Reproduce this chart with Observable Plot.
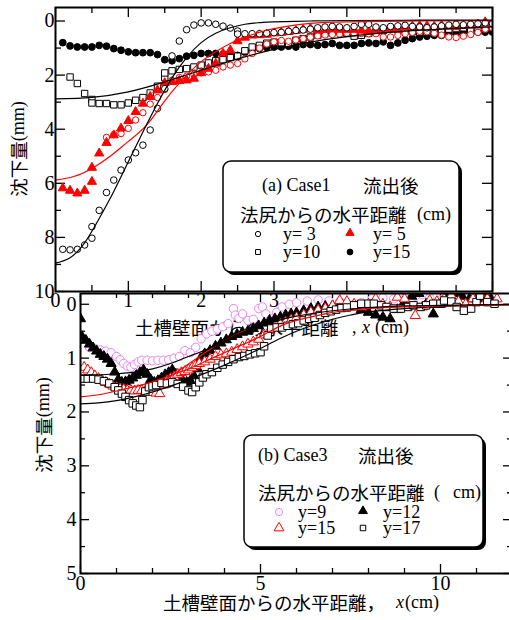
<!DOCTYPE html>
<html><head><meta charset="utf-8">
<script src="https://cdn.jsdelivr.net/npm/d3@7"></script>
<script src="https://cdn.jsdelivr.net/npm/@observablehq/plot@0.6"></script>
<style>
body{margin:0;background:#fff}
#wrap{position:relative;width:509px;height:620px;overflow:hidden;background:#fff}
#wrap svg{position:absolute;left:0}
</style></head><body><div id="wrap"></div>
<script>
// ---------- (a) Case1 data : [x (cm), settlement (mm)] ----------
const a_y3 = [[0.1,8.44],[0.2,8.46],[0.3,8.44],[0.4,8.28],[0.5,8.03],[0.5,7.6],[0.6,7.0],[0.7,6.34],[0.8,5.88],[0.9,5.51],[1.0,5.14],[1.1,4.87],[1.2,4.59],[1.3,4.03],[1.4,3.23],[1.5,2.5],[1.6,1.29],[1.7,0.74],[1.8,0.32],[1.9,0.15],[2.0,0.07],[2.1,0.07],[2.2,0.12],[2.3,0.19],[2.4,0.26],[2.5,0.37],[2.5,0.48],[2.6,0.47],[2.7,0.47],[2.8,0.47],[2.9,0.45],[3.0,0.43],[3.1,0.42],[3.2,0.38],[3.3,0.35],[3.4,0.33],[3.5,0.3],[3.6,0.25],[3.7,0.22],[3.8,0.2],[3.9,0.22],[4.0,0.25],[4.1,0.2],[4.2,0.12],[4.3,0.12],[4.4,0.22],[4.5,0.25],[4.6,0.2],[4.7,0.18],[4.8,0.16],[4.9,0.2],[5.0,0.22],[5.1,0.25],[5.2,0.22],[5.3,0.18],[5.4,0.15],[5.5,0.12],[5.6,0.14],[5.7,0.12],[5.8,0.1],[5.9,0.07],[6.0,0.1]];
const a_y5 = [[0.1,6.18],[0.2,6.27],[0.3,6.37],[0.4,6.27],[0.5,5.94],[0.5,5.42],[0.6,4.89],[0.7,4.5],[0.8,4.22],[0.9,3.97],[1.0,3.69],[1.1,3.36],[1.2,3.05],[1.3,2.8],[1.4,2.56],[1.5,2.29],[1.6,2.25],[1.7,2.21],[1.8,2.19],[1.9,2.13],[2.0,1.92],[2.1,1.76],[2.2,1.57],[2.3,1.2],[2.4,1.08],[2.5,0.74],[2.6,0.61],[2.7,0.53],[2.8,0.52],[2.9,0.5],[3.0,0.45],[3.1,0.43],[3.2,0.4],[3.3,0.36],[3.4,0.32],[3.5,0.28],[3.6,0.34],[3.7,0.32],[3.8,0.3],[3.9,0.32],[4.0,0.32],[4.1,0.32],[4.2,0.35],[4.3,0.38],[4.4,0.36],[4.5,0.33],[4.6,0.3],[4.7,0.25],[4.8,0.22],[4.9,0.2],[5.0,0.17],[5.1,0.18],[5.2,0.2],[5.3,0.16],[5.4,0.2],[5.5,0.22],[5.6,0.18],[5.7,0.16],[5.8,0.12],[5.9,0.04],[6.0,0.1]];
const a_red = [[0.7,4.3],[0.8,4.2],[0.9,4.16],[1.0,3.97],[1.1,3.66],[1.2,3.39],[1.3,3.07],[1.4,2.83],[1.5,2.53],[1.6,2.19],[1.7,2.09],[1.8,2.04],[1.9,1.97],[2.0,1.92],[2.1,1.88],[2.2,1.82],[2.3,1.7],[2.4,1.63],[2.5,1.57],[2.6,1.4],[2.7,1.2],[2.8,1.0],[2.9,0.85],[3.0,0.77],[3.1,0.72],[3.2,0.75],[3.3,0.7],[3.4,0.65],[3.5,0.6],[3.6,0.55],[3.7,0.52],[3.8,0.5],[3.9,0.48],[4.0,0.45],[4.1,0.45],[4.2,0.46],[4.3,0.47],[4.4,0.47],[4.5,0.59],[4.6,0.59],[4.7,0.53],[4.8,0.47],[4.9,0.42],[5.0,0.38],[5.1,0.4],[5.2,0.45],[5.3,0.52],[5.4,0.59],[5.5,0.61],[5.6,0.56],[5.7,0.5],[5.8,0.42],[5.9,0.3],[6.0,0.25]];
const a_y10 = [[0.2,2.07],[0.3,2.31],[0.4,2.68],[0.5,2.9],[0.5,3.03],[0.6,3.05],[0.7,3.05],[0.8,3.1],[0.9,3.1],[1.0,3.03],[1.1,2.93],[1.2,2.83],[1.3,2.66],[1.4,2.41],[1.5,2.09],[1.5,1.92],[1.6,1.84],[1.7,1.79],[1.8,1.76],[1.9,1.7],[2.0,1.63],[2.1,1.55],[2.2,1.47],[2.3,1.43],[2.4,1.35],[2.5,1.3],[2.6,1.1],[2.7,0.96],[2.8,0.9],[2.9,0.82],[3.0,0.78],[3.1,0.8],[3.2,0.83],[3.3,0.71],[3.4,0.65],[3.5,0.59],[3.6,0.53],[3.7,0.46],[3.8,0.41],[3.9,0.38],[4.0,0.46],[4.1,0.56],[4.2,0.53],[4.3,0.46],[4.4,0.4],[4.5,0.35],[4.6,0.28],[4.7,0.32],[4.8,0.37],[4.9,0.4],[5.0,0.41],[5.1,0.41],[5.2,0.37],[5.3,0.35],[5.4,0.3],[5.5,0.28],[5.6,0.25],[5.7,0.32],[5.8,0.37],[5.9,0.28],[6.0,0.25]];
const a_y15 = [[0.1,0.8],[0.2,0.92],[0.3,0.96],[0.4,0.96],[0.5,0.96],[0.6,0.9],[0.7,0.93],[0.8,1.02],[0.9,1.08],[1.0,1.14],[1.1,1.17],[1.2,1.17],[1.3,1.17],[1.4,1.24],[1.5,1.43],[1.6,1.47],[1.7,1.39],[1.8,1.3],[1.9,1.27],[2.0,1.2],[2.1,1.2],[2.2,1.2],[2.3,1.23],[2.4,1.27],[2.5,1.27],[2.6,1.15],[2.7,1.08],[2.8,1.02],[2.9,0.98],[3.0,0.96],[3.1,0.96],[3.2,0.93],[3.3,0.96],[3.4,0.87],[3.5,0.87],[3.6,0.9],[3.7,0.87],[3.8,0.83],[3.9,0.9],[4.0,0.9],[4.1,0.9],[4.2,0.83],[4.3,0.81],[4.4,0.83],[4.5,0.77],[4.6,0.9],[4.7,0.81],[4.8,0.71],[4.9,0.65],[5.0,0.59],[5.1,0.56],[5.2,0.53],[5.3,0.53],[5.4,0.47],[5.5,0.47],[5.6,0.41],[5.7,0.41],[5.8,0.41],[5.9,0.41],[6.0,0.41]];
// fitted curves (a)
const a_fit3 = [[0,8.95],[0.2,8.75],[0.4,8.2],[0.6,7.3],[0.8,6.3],[1.0,5.2],[1.2,4.1],[1.4,3.05],[1.6,2.1],[1.8,1.35],[2.0,0.8],[2.2,0.45],[2.4,0.25],[2.6,0.12],[2.8,0.06],[3.0,0.03],[3.5,0.0],[4.0,-0.02],[5.0,-0.03],[6.0,-0.03]];
const a_fit5 = [[0,5.88],[0.25,5.75],[0.5,5.45],[0.75,5.0],[1.0,4.45],[1.25,3.85],[1.5,2.95],[1.75,2.15],[2.0,1.5],[2.25,1.05],[2.5,0.7],[2.75,0.46],[3.0,0.28],[3.5,0.09],[4.0,0.03],[5.0,0.0],[6.0,-0.01]];
const a_fit10 = [[0,2.88],[0.5,2.82],[1.0,2.62],[1.5,2.25],[2.0,1.82],[2.5,1.4],[3.0,1.05],[3.5,0.78],[4.0,0.58],[4.5,0.44],[5.0,0.34],[5.5,0.27],[6.0,0.22]];

// ---------- (b) Case3 data ----------
const b_y9 = [[0.25,0.8],[0.4,0.82],[0.55,0.85],[0.7,0.87],[0.85,0.9],[1.0,0.97],[1.1,1.03],[1.2,1.1],[1.3,1.15],[1.4,1.17],[1.5,1.12],[1.6,1.07],[1.7,1.04],[1.85,1.04],[2.0,1.05],[2.15,1.04],[2.3,1.04],[2.45,1.03],[2.6,1.0],[2.75,0.97],[2.9,0.86],[3.05,0.9],[3.2,0.8],[3.35,0.64],[3.5,0.55],[3.65,0.5],[3.8,0.46],[3.95,0.42],[4.1,0.36],[4.25,0.08],[4.3,0.2],[4.4,0.26],[4.5,0.18],[4.65,0.3],[4.8,0.28],[4.95,0.08],[5.05,0.05],[5.15,0.18],[5.3,0.27],[5.45,0.15],[5.6,0.05],[5.8,0.0],[6.0,-0.03],[6.3,-0.06],[6.6,-0.08],[6.9,-0.06],[7.2,-0.05],[7.4,-0.02],[7.6,0.0],[7.8,-0.03],[8.1,-0.1],[8.4,-0.12],[8.7,-0.1],[9.0,-0.12],[9.3,-0.15],[9.5,-0.18],[9.7,-0.12],[10.0,-0.08],[10.2,-0.07],[10.5,-0.12],[10.8,-0.15],[11.1,-0.12],[11.4,-0.1]];
const b_y12 = [[0,0.27],[0.05,0.61],[0.15,0.67],[0.25,0.74],[0.35,0.81],[0.45,0.87],[0.55,0.93],[0.65,0.97],[0.75,1.02],[0.85,1.1],[0.95,1.26],[1.05,1.4],[1.15,1.45],[1.25,1.44],[1.35,1.41],[1.45,1.37],[1.55,1.32],[1.65,1.27],[1.75,1.22],[1.85,1.3],[1.95,1.4],[2.05,1.45],[2.15,1.42],[2.25,1.37],[2.35,1.31],[2.45,1.27],[2.55,1.22],[2.65,1.3],[2.75,1.38],[2.85,1.43],[2.95,1.45],[3.05,1.42],[3.15,1.33],[3.25,1.2],[3.33,1.01],[3.45,0.92],[3.6,0.86],[3.75,0.78],[3.9,0.72],[4.05,0.66],[4.2,0.6],[4.35,0.56],[4.5,0.52],[4.65,0.5],[4.8,0.45],[4.95,0.4],[5.1,0.35],[5.25,0.3],[5.4,0.27],[5.55,0.24],[5.7,0.2],[5.85,0.18],[6.0,0.16],[6.2,0.12],[6.4,0.08],[6.6,0.05],[6.8,0.04],[7.0,0.03],[7.2,0.02],[7.4,0.02],[7.6,0.05],[7.8,0.1],[8.0,0.15],[8.2,0.2],[8.4,0.24],[8.6,0.27],[8.8,0.1],[9.0,-0.05],[9.2,-0.15],[9.4,-0.2],[9.6,0.0],[9.8,0.18],[10.0,0.0],[10.2,-0.15],[10.4,-0.2],[10.6,-0.15],[10.8,-0.1],[11.0,-0.1],[11.2,-0.13],[11.4,-0.1]];
const b_y15 = [[0.1,1.17],[0.2,1.22],[0.3,1.27],[0.4,1.33],[0.5,1.38],[0.6,1.41],[0.7,1.45],[0.8,1.48],[0.9,1.52],[1.0,1.55],[1.1,1.57],[1.2,1.58],[1.3,1.6],[1.4,1.6],[1.5,1.61],[1.6,1.6],[1.7,1.6],[1.8,1.62],[1.9,1.63],[2.0,1.64],[2.1,1.65],[2.2,1.66],[2.3,1.5],[2.4,1.42],[2.5,1.38],[2.6,1.35],[2.7,1.3],[2.8,1.27],[2.9,1.25],[3.0,1.22],[3.1,1.18],[3.2,1.14],[3.3,1.1],[3.45,1.07],[3.6,1.02],[3.75,0.97],[3.9,0.94],[4.05,0.92],[4.2,0.89],[4.35,0.84],[4.5,0.79],[4.65,0.74],[4.8,0.7],[4.95,0.65],[5.1,0.57],[5.25,0.49],[5.4,0.42],[5.55,0.37],[5.7,0.33],[5.85,0.29],[6.0,0.25],[6.2,0.2],[6.4,0.15],[6.6,0.11],[6.8,0.08],[7.0,0.03],[7.2,-0.07],[7.4,-0.05],[7.6,0.0],[7.8,0.05],[8.0,0.0],[8.2,-0.1],[8.4,0.0],[8.6,0.05],[8.8,-0.13],[9.0,-0.1],[9.3,0.21],[9.5,0.05],[9.7,-0.07],[9.9,-0.05],[10.1,-0.1],[10.3,-0.16],[10.5,-0.05],[10.7,0.0],[10.9,-0.1],[11.1,-0.2],[11.3,-0.1],[11.57,-0.1]];
const b_y17 = [[0.05,1.38],[0.2,1.38],[0.35,1.38],[0.5,1.4],[0.65,1.43],[0.8,1.47],[0.95,1.54],[1.05,1.6],[1.15,1.66],[1.25,1.72],[1.35,1.78],[1.45,1.84],[1.55,1.88],[1.65,1.91],[1.72,1.78],[1.8,1.62],[1.9,1.54],[2.0,1.52],[2.1,1.5],[2.25,1.46],[2.4,1.47],[2.55,1.45],[2.7,1.48],[2.85,1.53],[3.0,1.6],[3.1,1.63],[3.2,1.54],[3.3,1.45],[3.4,1.36],[3.5,1.3],[3.65,1.26],[3.8,1.18],[3.95,1.12],[4.1,1.07],[4.25,1.02],[4.4,0.98],[4.55,0.96],[4.7,0.93],[4.85,0.91],[5.0,0.89],[5.1,0.78],[5.2,0.58],[5.3,0.45],[5.45,0.43],[5.6,0.43],[5.75,0.4],[5.9,0.37],[6.05,0.35],[6.2,0.3],[6.35,0.27],[6.5,0.25],[6.65,0.2],[6.8,0.16],[6.95,0.13],[7.1,0.1],[7.25,0.07],[7.4,0.06],[7.6,0.02],[7.8,-0.01],[8.0,-0.01],[8.15,-0.01],[8.35,0.02],[8.5,0.05],[8.7,0.08],[8.9,0.08],[9.1,0.05],[9.25,0.02],[9.45,0.05],[9.6,0.02],[9.8,-0.01],[10.0,-0.01],[10.1,-0.07],[10.3,-0.05],[10.45,0.05],[10.65,0.12],[10.85,0.08],[11.0,-0.04],[11.1,-0.16],[11.3,-0.04],[11.5,-0.01]];
// fitted curves (b)
const b_fitA = [[0,1.32],[0.5,1.31],[1.0,1.29],[1.5,1.26],[2.0,1.2],[2.5,1.1],[3.0,0.97],[3.5,0.84],[4.0,0.68],[4.5,0.52],[5.0,0.4],[5.5,0.3],[6.0,0.22],[7.0,0.12],[8.0,0.06],[9.0,0.03],[10.0,0.02],[12.0,0.0]];
const b_fitB = [[0,1.85],[0.5,1.83],[1.0,1.79],[1.5,1.72],[2.0,1.63],[2.5,1.52],[3.0,1.4],[3.5,1.27],[4.0,1.13],[4.5,0.98],[5.0,0.82],[5.5,0.65],[6.0,0.5],[6.5,0.38],[7.0,0.28],[7.5,0.2],[8.0,0.14],[9.0,0.08],[10.0,0.04],[11.0,0.02],[12.0,0.01]];
const b_fitR = [[0,1.72],[0.5,1.68],[1.0,1.61],[1.5,1.53],[2.0,1.44],[2.5,1.32],[3.0,1.2],[3.5,1.05],[4.0,0.9],[4.5,0.75],[5.0,0.6],[5.5,0.42],[6.0,0.3],[6.5,0.22],[7.0,0.15],[7.5,0.11],[8.0,0.08],[9.0,0.05],[10.0,0.03],[11.0,0.02],[12.0,0.01]];
const b_fitR2 = [[2.3,1.42],[2.8,1.2],[3.3,0.97],[3.8,0.75],[4.3,0.57],[4.6,0.48]];

// ---------- ticks & labels ----------
const aYMajor = [0,2,4,6,8,10], aYMinor = [1,3,5,7,9];
const aXMajor = [0,1,2,3,4,5,6], aXMinor = [0.5,1.5,2.5,3.5,4.5,5.5], aXLabels = [0,1,2,3];
const bYMajor = [0,1,2,3,4,5], bYMinor = [0.5,1.5,2.5,3.5,4.5];
const bXMajor = [0,5,10], bXMinor = [1,2,3,4,6,7,8,9,11];

const SERIF = "'Liberation Serif','Times New Roman',serif";
const JP = "'Noto Sans CJK JP','Noto Sans CJK SC',sans-serif";
const X = d => d[0], Y = d => d[1];
const intFmt = d => String(d);

function tickMarks(fw, fh, xMaj, xMin, yMaj, yMin, maj, min) {
  const o = {stroke: "black", strokeWidth: 1.3};
  return [
    Plot.tickX(xMaj, {x: d => d, insetTop: fh - maj, ...o}),
    Plot.tickX(xMaj, {x: d => d, insetBottom: fh - maj, ...o}),
    Plot.tickX(xMin, {x: d => d, insetTop: fh - min, ...o}),
    Plot.tickX(xMin, {x: d => d, insetBottom: fh - min, ...o}),
    Plot.tickY(yMaj, {y: d => d, insetRight: fw - maj, ...o}),
    Plot.tickY(yMaj, {y: d => d, insetLeft: fw - maj, ...o}),
    Plot.tickY(yMin, {y: d => d, insetRight: fw - min, ...o}),
    Plot.tickY(yMin, {y: d => d, insetLeft: fw - min, ...o})
  ];
}
const dot = (data, symbol, r, fill, stroke, sw = 1) =>
  Plot.dot(data, {x: X, y: Y, symbol, r, fill, stroke, strokeWidth: sw, clip: true});
const line = (data, stroke) =>
  Plot.line(data, {x: X, y: Y, stroke, strokeWidth: 1.2, curve: "natural", clip: true});

const wrap = document.getElementById("wrap");

// ---------- panel (a) ----------
const A = {w: 509, h: 340, ml: 55, mr: 17, mt: 7, mb: 49};
const aFW = A.w - A.ml - A.mr, aFH = A.h - A.mt - A.mb;
const plotA = Plot.plot({
  width: A.w, height: A.h, marginLeft: A.ml, marginRight: A.mr, marginTop: A.mt, marginBottom: A.mb,
  style: {background: "transparent", fontFamily: SERIF, fontSize: "20px", color: "black", maxWidth: "none", overflow: "visible"},
  x: {domain: [0, 6], ticks: aXLabels, tickFormat: intFmt, tickSize: 0, tickPadding: 1, label: null},
  y: {domain: [-0.5, 10], reverse: true, ticks: aYMajor, tickFormat: intFmt, tickSize: 0, tickPadding: 1, label: null},
  marks: [
    ...tickMarks(aFW, aFH, aXMajor, aXMinor, aYMajor, aYMinor, 10, 6),
    dot(a_y15, "circle", 3.4, "black", "black"),
    dot(a_y10, "square", 3.6, "white", "black"),
    dot(a_red, "circle", 3.2, "white", "red"),
    dot(a_y5, "triangle", 3.4, "red", "red"),
    dot(a_y3, "circle", 3.3, "white", "black"),
    line(a_fit10, "black"),
    line(a_fit5, "red"),
    line(a_fit3, "black"),
    Plot.frame({stroke: "black", strokeWidth: 2})
  ]
});
plotA.style.top = "0px";
wrap.appendChild(plotA);

// ---------- panel (b) ----------
const B = {w: 515, h: 335, ml: 80, mr: 3, mt: 8, mb: 47, top: 285};
const bFW = B.w - B.ml - B.mr, bFH = B.h - B.mt - B.mb;
const plotB = Plot.plot({
  width: B.w, height: B.h, marginLeft: B.ml, marginRight: B.mr, marginTop: B.mt, marginBottom: B.mb,
  style: {background: "transparent", fontFamily: SERIF, fontSize: "20px", color: "black", maxWidth: "none", overflow: "visible"},
  x: {domain: [0, 12], ticks: bXMajor, tickFormat: intFmt, tickSize: 0, tickPadding: 2, label: null},
  y: {domain: [-0.2, 5], reverse: true, ticks: bYMajor, tickFormat: intFmt, tickSize: 0, tickPadding: 4, label: null},
  marks: [
    ...tickMarks(bFW, bFH, bXMajor, bXMinor, bYMajor, bYMinor, 9, 5),
    dot(b_y9, "circle", 4.2, "white", "violet"),
    dot(b_y12, "triangle", 3.8, "black", "black"),
    dot(b_y15, "triangle", 3.8, "white", "red"),
    dot(b_y17, "square", 4.2, "white", "black"),
    line(b_fitB, "black"),
    line(b_fitR, "red"),
    line(b_fitR2, "red"),
    line(b_fitA, "black"),
    Plot.frame({stroke: "black", strokeWidth: 2})
  ]
});
plotB.style.top = B.top + "px";
wrap.appendChild(plotB);

// ---------- titles & legends ----------
function txt(g, x, y, parts, opts = {}) {
  const t = g.append("text").attr("x", x).attr("y", y)
    .attr("dominant-baseline", "central").attr("fill", "black")
    .attr("text-anchor", opts.rotate ? "middle" : "start");
  if (opts.rotate) t.attr("transform", `rotate(-90,${x},${y})`);
  for (const p of parts) {
    const s = t.append("tspan").text(p.t)
      .attr("font-family", p.jp ? JP : SERIF)
      .attr("font-size", p.jp ? 18.5 : 18);
    if (p.x != null) s.attr("x", p.x);
    if (p.i) s.attr("font-style", "italic");
  }
  return t;
}
function sym(g, x, y, type, size, fill, stroke) {
  g.append("path").attr("d", d3.symbol().type(type).size(size)())
    .attr("transform", `translate(${x},${y})`)
    .attr("fill", fill).attr("stroke", stroke).attr("stroke-width", 1);
}
function box(g, x, y, w, h) {
  g.append("rect").attr("x", x + 3).attr("y", y + 3).attr("width", w).attr("height", h)
    .attr("rx", 8).attr("fill", "black");
  g.append("rect").attr("x", x).attr("y", y).attr("width", w).attr("height", h)
    .attr("rx", 8).attr("fill", "white").attr("stroke", "black").attr("stroke-width", 1.5);
}

// panel (a) texts
const ga = d3.select(plotA).append("g");
txt(ga, 18, 149, [{t: "沈下量", jp: 1}, {t: "(mm)"}], {rotate: true});
txt(ga, 135, 327, [{t: "土槽壁面からの水平距離", jp: 1}, {t: ",", x: 352}, {t: "x", x: 362, i: 1}, {t: "(cm)", x: 375}]);
box(ga, 223, 161, 236, 111);
txt(ga, 262, 185, [{t: "(a) Case1"}, {t: "流出後", jp: 1, x: 363}]);
txt(ga, 240, 214, [{t: "法尻からの水平距離", jp: 1}, {t: "(cm)", x: 417}]);
sym(ga, 258, 234, d3.symbolCircle, 22, "white", "black");
txt(ga, 283, 234, [{t: "y= 3"}]);
sym(ga, 350, 233, d3.symbolTriangle, 30, "red", "red");
txt(ga, 373, 234, [{t: "y= 5"}]);
sym(ga, 258, 252, d3.symbolSquare, 24, "white", "black");
txt(ga, 283, 252, [{t: "y=10"}]);
sym(ga, 350, 252, d3.symbolCircle, 26, "black", "black");
txt(ga, 373, 252, [{t: "y=15"}]);

// panel (b) texts (coordinates relative to its svg top = 285)
const gb = d3.select(plotB).append("g");
const o = B.top;
txt(gb, 43, 425 - o, [{t: "沈下量", jp: 1}, {t: "(mm)"}], {rotate: true});
txt(gb, 163, 602 - o, [{t: "土槽壁面からの水平距離，", jp: 1}, {t: "x", x: 396, i: 1}, {t: "(cm)", x: 405}]);
box(gb, 244, 435 - o, 239, 112);
txt(gb, 258, 455 - o, [{t: "(b) Case3"}, {t: "流出後", jp: 1, x: 358}]);
txt(gb, 258, 492 - o, [{t: "法尻からの水平距離", jp: 1}, {t: "(", x: 434}, {t: "cm)", x: 453}]);
sym(gb, 279, 512 - o, d3.symbolCircle, 40, "white", "violet");
txt(gb, 298, 512 - o, [{t: "y=9"}]);
sym(gb, 363, 511 - o, d3.symbolTriangle, 34, "black", "black");
txt(gb, 383, 512 - o, [{t: "y=12"}]);
sym(gb, 279, 528 - o, d3.symbolTriangle, 42, "white", "red");
txt(gb, 298, 528 - o, [{t: "y=15"}]);
sym(gb, 363, 528 - o, d3.symbolSquare, 30, "white", "black");
txt(gb, 383, 528 - o, [{t: "y=17"}]);
</script>
</body></html>
